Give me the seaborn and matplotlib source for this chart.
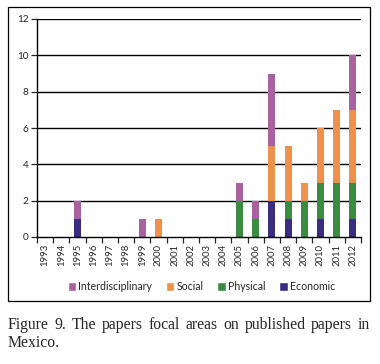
import pandas as pd
import numpy as np
import matplotlib
matplotlib.use('Agg')
import matplotlib.pyplot as plt
from matplotlib.patches import Patch, Rectangle
import seaborn as sns

# ─── DATA ─────────────────────────────────────────────
years = list(range(1993, 2013))
economic          = [0, 0, 1, 0, 0, 0, 0, 0, 0, 0, 0, 0, 0, 0, 2, 1, 0, 1, 0, 1]
physical          = [0, 0, 0, 0, 0, 0, 0, 0, 0, 0, 0, 0, 2, 1, 0, 1, 2, 2, 3, 2]
social            = [0, 0, 0, 0, 0, 0, 0, 1, 0, 0, 0, 0, 0, 0, 3, 3, 1, 3, 4, 4]
interdisciplinary = [0, 0, 1, 0, 0, 0, 1, 0, 0, 0, 0, 0, 1, 1, 4, 0, 0, 0, 0, 3]

areas = ['Interdisciplinary', 'Social', 'Physical', 'Economic']
colors = {'Interdisciplinary': '#A8629F', 'Social': '#F0914B',
          'Physical': '#3B8C41', 'Economic': '#3A2C80'}
caption_1 = 'Figure 9. The papers focal areas on published papers in'
caption_2 = 'Mexico.'

df = pd.concat([
    pd.DataFrame({'year': years, 'area': name, 'count': vals})
    for name, vals in zip(areas, [interdisciplinary, social, physical, economic])
])

# ─── PLOT ─────────────────────────────────────────────
sns.set_style('ticks')
plt.rcParams['font.family'] = ['Lato', 'DejaVu Sans']

fig = plt.figure(figsize=(3.8, 3.64), dpi=100)
ax = fig.add_axes([37 / 380, 1 - 237 / 364, 324 / 380, 218 / 364])

sns.histplot(data=df, x='year', weights='count', hue='area', hue_order=areas,
             multiple='stack', discrete=True, shrink=0.44, palette=colors,
             alpha=1, linewidth=0, legend=False, ax=ax)

ax.set_xlim(1992.5, 2012.5)
ax.set_ylim(0, 12)
ax.set_yticks(range(0, 13, 2))
for y in range(2, 13, 2):
    ax.axhline(y, color='black', lw=1.0, zorder=0)
ax.set_xticks(years)
ax.set_xticklabels([str(y) for y in years], rotation=90, fontsize=6.8)
ax.set_xticks(np.arange(1992.5, 2013, 1), minor=True)
ax.tick_params(axis='x', which='major', length=0, pad=5)
ax.tick_params(axis='x', which='minor', length=4, width=0.9, direction='out')
ax.tick_params(axis='y', length=4, width=0.9, labelsize=7.2, pad=2)
ax.set_xlabel('')
ax.set_ylabel('')
sns.despine(ax=ax)
for s in ['left', 'bottom']:
    ax.spines[s].set_linewidth(1.0)
    ax.spines[s].set_color('black')

handles = [Patch(facecolor=colors[a], label=a) for a in areas]
fig.legend(handles=handles, loc='center', bbox_to_anchor=(0.53, 1 - 287 / 364),
           ncol=4, frameon=False, fontsize=7.6, handlelength=0.8, handleheight=0.9,
           handletextpad=0.2, columnspacing=1.3)

fig.add_artist(Rectangle((8 / 380, 1 - 301 / 364), 362 / 380, 294 / 364,
                         transform=fig.transFigure, fill=False, ec='black', lw=0.9))

# caption: first line justified across the frame width
cap_kw = dict(family='Liberation Serif', fontsize=11.3, va='center', ha='left')
words = caption_1.split()
fig.canvas.draw()
renderer = fig.canvas.get_renderer()
arts = [fig.text(0, 1 - 325 / 364, w, **cap_kw) for w in words]
widths = [a.get_window_extent(renderer).width for a in arts]
x0, x1 = 8, 370
gap = (x1 - x0 - sum(widths)) / (len(words) - 1)
x = x0
for a, w in zip(arts, widths):
    a.set_x(x / 380)
    x += w + gap
fig.text(8 / 380, 1 - 343 / 364, caption_2, **cap_kw)

plt.savefig('out.png', dpi=100)
plt.close()
